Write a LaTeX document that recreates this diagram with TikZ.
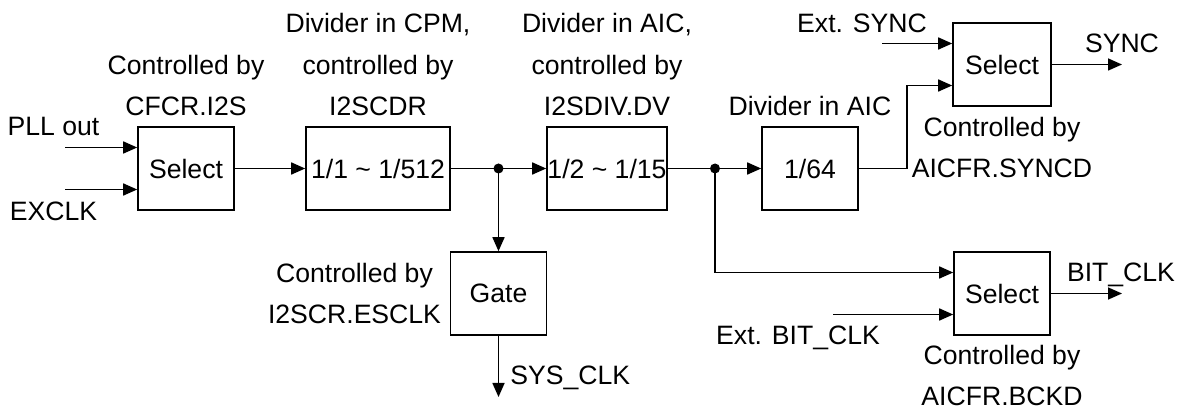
\documentclass[tikz,border=0pt]{standalone}
\usepackage{fontspec}
\setmainfont{Liberation Sans}
\usepackage{tikz}
\usetikzlibrary{arrows.meta,positioning,calc}
\tikzset{
  unit/.style     = {draw, line width=0.8pt, rectangle, minimum height=41.5pt,
                     minimum width=48pt, inner sep=0pt, align=center},
  junction/.style = {fill, circle, inner sep=0pt, minimum size=5pt},
  wire/.style     = {-{Triangle[length=7pt,width=6pt]}, line width=0.8pt},
  note/.style     = {inner sep=0pt, align=center},
}

\begin{document}
\begin{tikzpicture}[x=0.5pt,y=-0.5pt,font=\fontsize{13.3}{20.75}\selectfont]
\useasboundingbox (0,0) rectangle (1184,411);
% blocks
\node[unit] (sel1) at (186,168.5) {Select};
\node[unit,minimum width=72pt] (cpm) at (378,168.5) {1/1 \textasciitilde{} 1/512};
\node[unit,minimum width=60pt] (aic) at (607,168.5) {1/2 \textasciitilde{} 1/15};
\node[unit] (div64) at (810,168.5) {1/64};
\node[unit,minimum width=49pt] (sel2) at (1002,64.5) {Select};
\node[unit] (gate) at (498.5,293.5) {Gate};
\node[unit] (sel3) at (1002,293.5) {Select};
\node[junction] (j1) at (498.5,168.5) {};
\node[junction] (j2) at (715,168.5) {};
% free ends
\coordinate (pll) at (65,147.5);
\coordinate (exclk) at (65,189.5);
\coordinate (extsync) at (882,43.5);
\coordinate (extbit) at (833,314.5);
\coordinate (bend) at (907,168.5);
\coordinate (syncout) at (1122,64.5);
\coordinate (bitout) at (1122,293.5);
\coordinate (sysout) at (498.5,397);
% signal paths
\draw[wire] (pll) -- (pll -| sel1.west);
\draw[wire] (exclk) -- (exclk -| sel1.west);
\draw[wire] (sel1) -- (cpm);
\draw[line width=0.8pt] (cpm.east) -- (j1.center);
\draw[wire] (j1.center) -- (aic.west);
\draw[wire] (j1.center) -- (gate.north);
\draw[wire] (gate.south) -- (sysout);
\draw[line width=0.8pt] (aic.east) -- (j2.center);
\draw[wire] (j2.center) -- (div64.west);
\draw[wire] (div64.east) -- (bend) |- ([yshift=-10.5pt]sel2.west);
\draw[wire] (extsync) -- (extsync -| sel2.west);
\draw[wire] (sel2.east) -- (syncout);
\draw[wire] (j2.center) |- ([yshift=10.5pt]sel3.west);
\draw[wire] (extbit) -- (extbit -| sel3.west);
\draw[wire] (sel3.east) -- (bitout);
% labels
\node[note,anchor=base] (lblpll) at (53.5,136) {PLL out};
\node[note,anchor=base] (lblexclk) at (53.5,221) {EXCLK};
\node[note,anchor=base] (lblsel1) at (186,116) {Controlled by\\CFCR.I2S};
\node[note,anchor=base] (lblcpm) at (378,116) {Divider in CPM,\\controlled by\\I2SCDR};
\node[note,anchor=base] (lblaic) at (607,116) {Divider in AIC,\\controlled by\\I2SDIV.DV};
\node[note,anchor=base] (lbldiv64) at (810,116) {Divider in AIC};
\node[note,anchor=base] (lblext) at (862,33) {Ext. SYNC};
\node[note,anchor=base] (lblsync) at (1122,53) {SYNC};
\node[note,anchor=base] (lblsel2) at (1002,178) {Controlled by\\AICFR.SYNCD};
\node[note,anchor=base] (lblgate) at (354.5,324) {Controlled by\\I2SCR.ESCLK};
\node[note,anchor=base west] (lblsys) at (510,385) {SYS\_CLK};
\node[note,anchor=base] (lblextbit) at (798,344) {Ext. BIT\_CLK};
\node[note,anchor=base] (lblbit) at (1121,282) {BIT\_CLK};
\node[note,anchor=base] (lblsel3) at (1002,406) {Controlled by\\AICFR.BCKD};
\end{tikzpicture}
\end{document}
